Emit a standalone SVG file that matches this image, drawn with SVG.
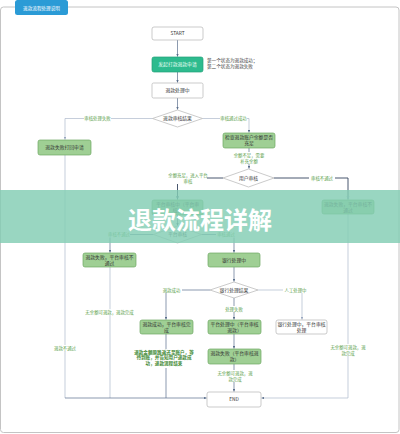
<svg xmlns="http://www.w3.org/2000/svg" width="400" height="434" viewBox="0 0 400 434">
<defs>
<marker id="arr" viewBox="0 0 6 6" refX="5.5" refY="3" markerWidth="4" markerHeight="4" orient="auto">
<path d="M0,0.5 L6,3 L0,5.5 z" fill="#5a6f8c"/>
</marker>
<marker id="arrL" viewBox="0 0 6 6" refX="5.5" refY="3" markerWidth="4" markerHeight="4" orient="auto">
<path d="M0,0.5 L6,3 L0,5.5 z" fill="#9aa8c0"/>
</marker>
<style>
text{font-family:"Noto Sans CJK SC","Noto Sans",sans-serif;}
.box{fill:#fff;stroke:#b5b5b5;stroke-width:0.7;}
.gbox{fill:#9fcf94;stroke:#6da862;stroke-width:0.7;}
.tbox{fill:#2dbb8e;stroke:#23a27a;stroke-width:0.7;}
.dia{fill:#fff;stroke:#b5b5b5;stroke-width:0.7;}
.nt{font-size:4.8px;fill:#333;text-anchor:middle;}
.lb{font-size:4.4px;fill:#5aa04a;text-anchor:middle;}
.lbb{font-size:4.6px;fill:#3f8a34;text-anchor:middle;font-weight:bold;}
.ln{fill:none;stroke:#5a6f8c;stroke-width:0.7;}
.ll{fill:none;stroke:#aeb9cc;stroke-width:0.7;}
.lk{fill:none;stroke:#34445e;stroke-width:0.9;}
.bg{fill:#fff;}
</style>
</defs>
<rect x="0.5" y="7" width="398.5" height="425.5" rx="3" fill="#fff" stroke="#c4c4c4" stroke-width="1"/>
<g id="tab">
<rect x="15" y="0" width="53" height="15" rx="2.5" fill="#2b9bd6"/>
<text x="41.5" y="9.6" font-size="4.6" fill="#fff" text-anchor="middle">退款流程处理说明</text>
</g>
<g id="connectors">
<path class="ln" d="M177.5,40 V56.5" marker-end="url(#arr)"/>
<path class="ln" d="M177.5,72 V82.5" marker-end="url(#arr)"/>
<path class="ln" d="M177.5,98 V109.5" marker-end="url(#arr)"/>
<path class="ll" d="M152.5,118.5 H65 V139.5" marker-end="url(#arrL)"/>
<path class="ll" d="M202.5,118.5 H249 V132.5" marker-end="url(#arr)"/>
<path class="ln" d="M249,148 V168.5" marker-end="url(#arr)"/>
<path class="lk" d="M223,178 H177.5 V199.5" marker-end="url(#arr)"/>
<path class="lk" d="M274,178 H348 V199.5" marker-end="url(#arrL)"/>
<path class="ln" d="M177.5,215 V225.5" marker-end="url(#arr)"/>
<path class="ln" d="M153.5,234.5 H110 V252.5" marker-end="url(#arr)"/>
<path class="ln" d="M201.5,234.5 H234 V252.5" marker-end="url(#arr)"/>
<path class="ln" d="M234,267 V281.5" marker-end="url(#arr)"/>
<path class="ln" d="M210,290 H166 V319.5" marker-end="url(#arr)"/>
<path class="ln" d="M234,298 V319.5" marker-end="url(#arr)"/>
<path class="ll" d="M258,290 H302 V319.5" marker-end="url(#arrL)"/>
<path class="ln" d="M234,334 V348.5" marker-end="url(#arr)"/>
<path class="ln" d="M234,364 V391.5" marker-end="url(#arr)"/>
<path class="ll" d="M65,155 V398" />
<path class="ll" d="M110,267 V398" />
<path class="ln" d="M166,334 V398" />
<path class="ln" d="M65,398 H206.5" marker-end="url(#arr)"/>
<path class="ll" d="M348,214 V398 H261.5" marker-end="url(#arr)"/>
</g>
<g id="labels">
<rect class="bg" x="84" y="115.5" width="27" height="6"/>
<text class="lb" x="97.5" y="120">审核处理失败</text>
<rect class="bg" x="220" y="115.5" width="27" height="6"/>
<text class="lb" x="233.5" y="120">审核通过成功</text>
<rect class="bg" x="231" y="152" width="36" height="12"/>
<text class="lb" x="249" y="156.5">余额不足，需要</text>
<text class="lb" x="249" y="162.5">补充余额</text>
<rect class="bg" x="169" y="172" width="38" height="12"/>
<text class="lb" x="188" y="176.5">余额充足，进入平台</text>
<text class="lb" x="188" y="182.5">审核</text>
<rect class="bg" x="309" y="175" width="26" height="6"/>
<text class="lb" x="322" y="179.5">审核不通过</text>
<rect class="bg" x="108" y="231.5" width="22" height="6"/>
<text class="lb" x="119" y="236">审核不通过</text>
<rect class="bg" x="216" y="231.5" width="20" height="6"/>
<text class="lb" x="226" y="236">审核通过</text>
<rect class="bg" x="161" y="287" width="21" height="6"/>
<text class="lb" x="171.5" y="291.5">退款成功</text>
<rect class="bg" x="283" y="287" width="25" height="6"/>
<text class="lb" x="295.5" y="291.5">人工处理中</text>
<rect class="bg" x="224" y="306" width="20" height="6"/>
<text class="lb" x="234" y="310.5">处理失败</text>
<rect class="bg" x="216" y="370" width="38" height="12"/>
<text class="lb" x="235" y="374.5">无余额可退款，退</text>
<text class="lb" x="235" y="380.5">款完成</text>
<rect class="bg" x="329" y="344" width="38" height="12"/>
<text class="lb" x="348" y="348.5">无余额可退款，退</text>
<text class="lb" x="348" y="354.5">款完成</text>
<rect class="bg" x="53" y="345" width="24" height="6"/>
<text class="lb" x="65" y="349.5">退款不通过</text>
<rect class="bg" x="84" y="309" width="51" height="6"/>
<text class="lb" x="109.5" y="313.5">无余额可退款，退款完成</text>
<rect class="bg" x="136" y="349" width="56" height="19"/>
<text class="lbb" x="164" y="353.5">退款金额原路返还至账户，等</text>
<text class="lbb" x="164" y="359.3">待到账，并告知用户退款成</text>
<text class="lbb" x="164" y="365.1">功，退款流程结束</text>
<text x="207" y="62" font-size="4.6" fill="#444">第一个状态为退款成功；</text>
<text x="207" y="68" font-size="4.6" fill="#444">第二个状态为退款失败</text>
</g>
<g id="n-start"><rect class="box" x="152" y="27" width="51" height="13" rx="2"/><text class="nt" x="177.5" y="35.3">START</text></g>
<g id="n-apply"><rect class="tbox" x="152" y="57" width="51" height="15" rx="2"/><text class="nt" x="177.5" y="66.2" fill="#f4fff9" style="fill:#effff8">发起打款退款申请</text></g>
<g id="n-processing"><rect class="box" x="152" y="83" width="51" height="15" rx="1.5"/><text class="nt" x="177.5" y="92.2">退款处理中</text></g>
<g id="d-result"><polygon class="dia" points="152.5,118.5 177.5,110 202.5,118.5 177.5,127"/><text class="nt" x="177.5" y="120.2">退款审核结果</text></g>
<g id="n-fail1"><rect class="gbox" x="38" y="140" width="53" height="15" rx="2"/><text class="nt" x="64.5" y="149.2">退款失败打回申请</text></g>
<g id="n-check"><rect class="gbox" x="223" y="133" width="52" height="15" rx="2"/><text class="nt" x="249" y="139.3">检查退款账户余额是否</text><text class="nt" x="249" y="145.3">充足</text></g>
<g id="d-user"><polygon class="dia" points="223,178 248.5,169 274,178 248.5,187"/><text class="nt" x="248.5" y="179.7">用户审核</text></g>
<g id="n-fail2"><rect class="gbox" x="322" y="200" width="52" height="14" rx="2"/><text class="nt" x="348" y="205.8">退款失败，平台审核不</text><text class="nt" x="348" y="211.6">通过</text></g>
<g id="n-platform"><rect class="gbox" x="152" y="200" width="51" height="15" rx="2"/><text class="nt" x="177.5" y="206.3">平台审核中（平台审</text><text class="nt" x="177.5" y="212.3">核）</text></g>
<g id="d-platform"><polygon class="dia" points="153.5,234.5 177.5,226 201.5,234.5 177.5,243"/><text class="nt" x="177.5" y="236.2">平台审核</text></g>
<g id="n-fail3"><rect class="gbox" x="83" y="253" width="53" height="14" rx="2"/><text class="nt" x="109.5" y="258.8">退款失败，平台审核不</text><text class="nt" x="109.5" y="264.6">通过</text></g>
<g id="n-bank"><rect class="gbox" x="208" y="253" width="52" height="14" rx="2"/><text class="nt" x="234" y="261.7">银行处理中</text></g>
<g id="d-bank"><polygon class="dia" points="210,290 234,282 258,290 234,298"/><text class="nt" x="234" y="291.7">银行处理结果</text></g>
<g id="n-success"><rect class="gbox" x="140" y="320" width="53" height="14" rx="2"/><text class="nt" x="166.5" y="325.8">退款成功，平台审核完</text><text class="nt" x="166.5" y="331.6">成</text></g>
<g id="n-review"><rect class="gbox" x="208" y="320" width="53" height="14" rx="2"/><text class="nt" x="234.5" y="325.8">平台处理中（平台审核</text><text class="nt" x="234.5" y="331.6">退款）</text></g>
<g id="n-manual"><rect class="box" x="276" y="320" width="51" height="14" rx="2"/><text class="nt" x="301.5" y="325.8">银行处理中，平台审核</text><text class="nt" x="301.5" y="331.6">处理</text></g>
<g id="n-fail4"><rect class="gbox" x="208" y="349" width="53" height="15" rx="2"/><text class="nt" x="234.5" y="355.3">退款失败（平台审核退</text><text class="nt" x="234.5" y="361.3">款）</text></g>
<g id="n-end"><rect class="box" x="207" y="392" width="54" height="15" rx="2"/><text class="nt" x="234" y="401.2">END</text></g>
<g id="banner">
<rect x="0" y="190" width="400" height="53" fill="#82cdb3" opacity="0.82"/>
<text x="200" y="229" font-size="24" font-weight="bold" fill="#fff" text-anchor="middle">退款流程详解</text>
</g>
</svg>
